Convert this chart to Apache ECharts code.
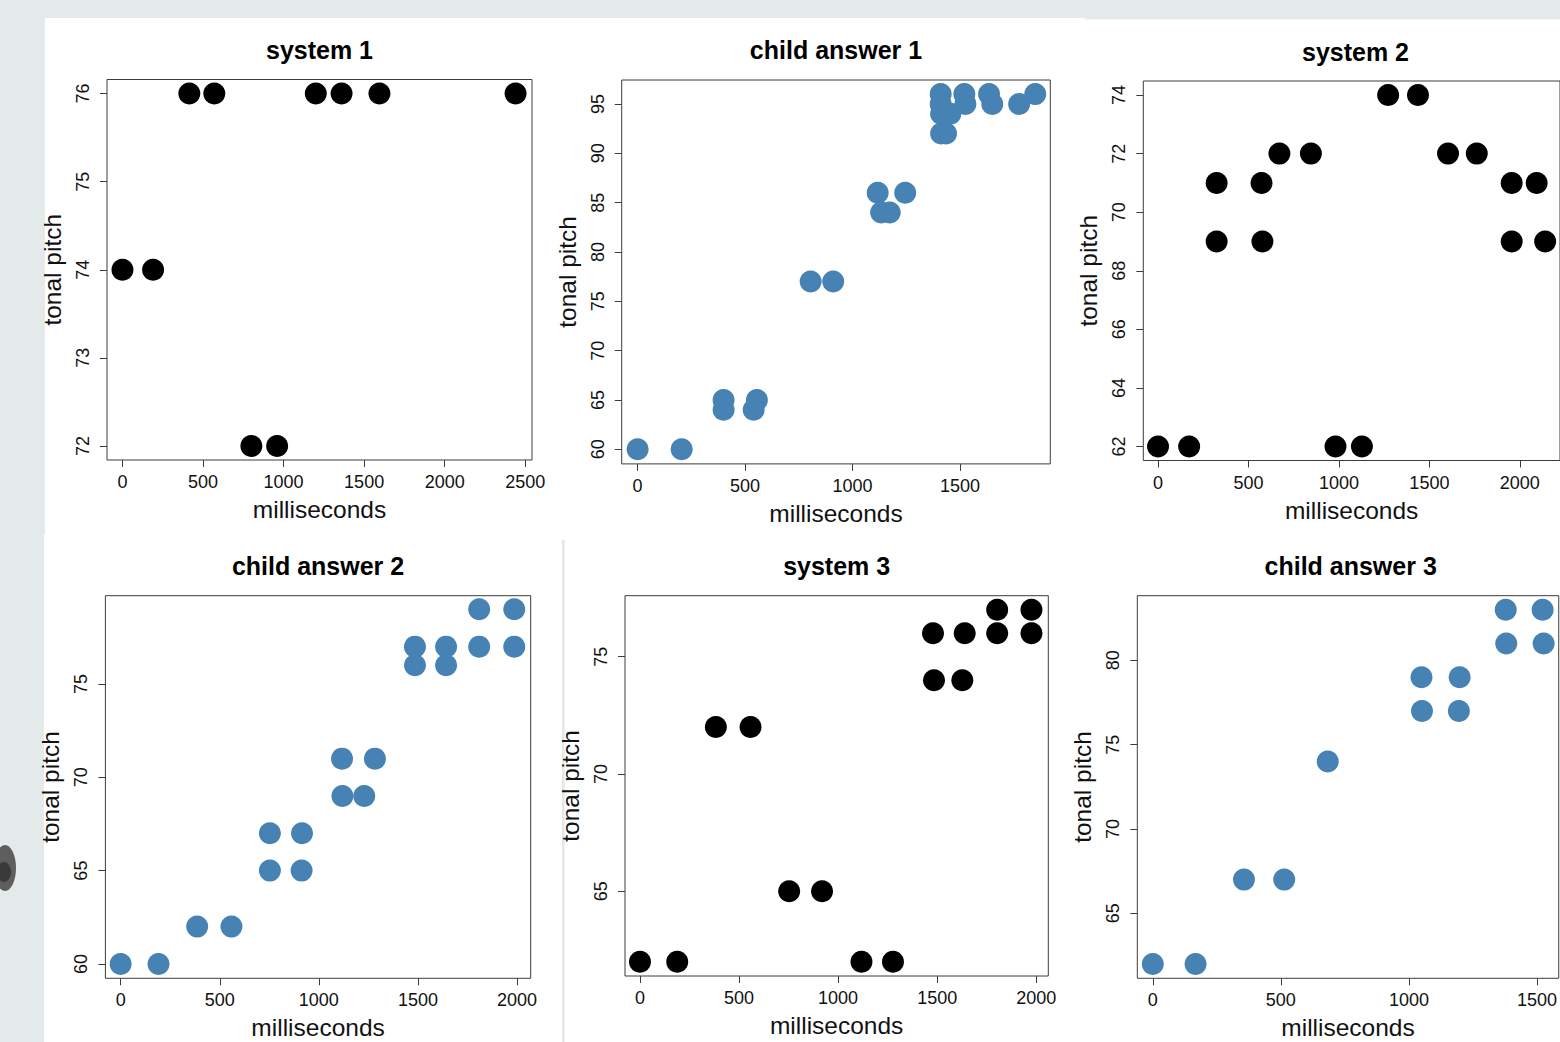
<!DOCTYPE html>
<html>
<head>
<meta charset="utf-8">
<script src="https://cdn.jsdelivr.net/npm/echarts@6/dist/echarts.min.js"></script>
<style>
  html, body { margin: 0; padding: 0; background: #e4eaea; }
  #chart { width: 1560px; height: 1042px; }
</style>
</head>
<body>
<div id="chart"></div>
<script>
// ---------- data ----------
const panelTitles = ['system 1', 'child answer 1', 'system 2', 'child answer 2', 'system 3', 'child answer 3'];
const xAxisTitle = 'milliseconds';
const yAxisTitle = 'tonal pitch';

const sys1Ms    = [0, 190, 415, 570, 800, 960, 1200, 1360, 1595, 2440];
const sys1Pitch = [74, 74, 76, 76, 72, 72, 76, 76, 76, 76];

const child1Ms    = [0, 205, 400, 400, 540, 555, 805, 910, 1117, 1133, 1173, 1245, 1410, 1410, 1412, 1455, 1412, 1435, 1520, 1525, 1635, 1650, 1775, 1850];
const child1Pitch = [60, 60, 65, 64, 64, 65, 77, 77, 86, 84, 84, 86, 96, 95, 94, 94, 92, 92, 96, 95, 96, 95, 95, 96];

const sys2Ms    = [0, 172, 324, 324, 572, 577, 671, 845, 981, 1127, 1272, 1437, 1603, 1762, 1955, 1955, 2093, 2140];
const sys2Pitch = [62, 62, 71, 69, 71, 69, 72, 72, 62, 62, 74, 74, 72, 72, 71, 69, 71, 69];

const child2Ms    = [0, 191, 386, 559, 753, 753, 915, 913, 1117, 1119, 1229, 1283, 1485, 1485, 1642, 1642, 1809, 1809, 1986, 1986];
const child2Pitch = [60, 60, 62, 62, 65, 67, 67, 65, 71, 69, 69, 71, 77, 76, 77, 76, 79, 77, 79, 77];

const sys3Ms    = [0, 188, 383, 558, 753, 919, 1118, 1277, 1479, 1484, 1639, 1627, 1803, 1803, 1976, 1976];
const sys3Pitch = [62, 62, 72, 72, 65, 65, 62, 62, 76, 74, 76, 74, 77, 76, 77, 76];

const child3Ms    = [0, 167, 356, 513, 683, 1049, 1051, 1198, 1195, 1378, 1380, 1522, 1526];
const child3Pitch = [62, 62, 67, 67, 74, 79, 77, 79, 77, 83, 81, 83, 81];

const xTicks1 = [0, 500, 1000, 1500, 2000, 2500];
const xTicks2 = [0, 500, 1000, 1500];
const xTicks3 = [0, 500, 1000, 1500, 2000];
const xTicks4 = [0, 500, 1000, 1500, 2000];
const xTicks5 = [0, 500, 1000, 1500, 2000];
const xTicks6 = [0, 500, 1000, 1500];

const yTicks1 = [72, 73, 74, 75, 76];
const yTicks2 = [60, 65, 70, 75, 80, 85, 90, 95];
const yTicks3 = [62, 64, 66, 68, 70, 72, 74];
const yTicks4 = [60, 65, 70, 75];
const yTicks5 = [65, 70, 75];
const yTicks6 = [65, 70, 75, 80];

// ---------- layout / style ----------
const BLACK = '#000000';
const BLUE = '#4682b4';
const FONT = '"Liberation Sans", Arial, sans-serif';

const panels = [
  { ms: sys1Ms,   pitch: sys1Pitch,   color: BLACK, xt: xTicks1, yt: yTicks1,
    grid: [107, 79.5, 425, 380.5], xr: [-96, 2542], yr: [71.84, 76.16], ty: 50 },
  { ms: child1Ms, pitch: child1Pitch, color: BLUE,  xt: xTicks2, yt: yTicks2,
    grid: [621.7, 80, 428.6, 383.9], xr: [-74, 1920], yr: [58.52, 97.43], ty: 50 },
  { ms: sys2Ms,   pitch: sys2Pitch,   color: BLACK, xt: xTicks3, yt: yTicks3,
    grid: [1143.3, 81, 424.4, 379.5], xr: [-81.4, 2222], yr: [61.52, 74.48], ty: 52 },
  { ms: child2Ms, pitch: child2Pitch, color: BLUE,  xt: xTicks4, yt: yTicks4,
    grid: [105.4, 595.7, 425.3, 382.6], xr: [-77, 2069], yr: [59.23, 79.73], ty: 566 },
  { ms: sys3Ms,   pitch: sys3Pitch,   color: BLACK, xt: xTicks5, yt: yTicks5,
    grid: [625, 595.7, 423.3, 380.3], xr: [-75.6, 2061], yr: [61.39, 77.6], ty: 566 },
  { ms: child3Ms, pitch: child3Pitch, color: BLUE,  xt: xTicks6, yt: yTicks6,
    grid: [1137.3, 595.7, 426.7, 382.6], xr: [-60.5, 1585], yr: [61.15, 83.83], ty: 566 }
];

const chart = echarts.init(document.getElementById('chart'), null, { renderer: 'svg' });

const AXIS_COLOR = '#3c3c3c';
const TEXT_COLOR = '#111111';
const plain = v => String(Math.round(v));

const option = {
  animation: false,
  backgroundColor: '#e4eaea',
  textStyle: { fontFamily: FONT },
  graphic: [
    { type: 'rect', shape: { x: 45, y: 18, width: 1040, height: 516 }, style: { fill: '#ffffff' }, z: -10, silent: true },
    { type: 'rect', shape: { x: 1082, y: 19.5, width: 480, height: 515 }, style: { fill: '#ffffff' }, z: -10, silent: true },
    { type: 'rect', shape: { x: 44, y: 534, width: 1520, height: 510 }, style: { fill: '#ffffff' }, z: -10, silent: true },
    { type: 'rect', shape: { x: 562, y: 540, width: 2.5, height: 502 }, style: { fill: '#e4e7e7' }, z: -9, silent: true },
    { type: 'ellipse', shape: { cx: 5, cy: 868, rx: 11, ry: 23 }, style: { fill: '#5e5e5e' }, z: -9, silent: true },
    { type: 'ellipse', shape: { cx: 4, cy: 872, rx: 7, ry: 10 }, style: { fill: '#3a3a3a' }, z: -8, silent: true }
  ],
  title: panels.map((p, i) => ({
    text: panelTitles[i],
    left: p.grid[0] + p.grid[2] / 2,
    top: p.ty,
    padding: 0,
    textAlign: 'center',
    textVerticalAlign: 'middle',
    textStyle: { fontSize: 25, fontWeight: 'bold', color: '#000', fontFamily: FONT }
  })),
  grid: panels.map(p => ({
    left: p.grid[0], top: p.grid[1], width: p.grid[2], height: p.grid[3],
    show: true, borderColor: AXIS_COLOR, borderWidth: 1, backgroundColor: 'transparent',
    containLabel: false
  })),
  xAxis: panels.map((p, i) => ({
    gridIndex: i, type: 'value', min: p.xr[0], max: p.xr[1], position: 'bottom',
    axisLine: { show: false, onZero: false },
    splitLine: { show: false },
    axisTick: { show: true, inside: false, length: 7, lineStyle: { color: AXIS_COLOR, width: 1 }, customValues: p.xt },
    axisLabel: { customValues: p.xt, formatter: plain, fontSize: 18, margin: 13, color: TEXT_COLOR, fontFamily: FONT },
    name: xAxisTitle, nameLocation: 'middle', nameGap: 37,
    nameTextStyle: { fontSize: 24.5, color: TEXT_COLOR, fontFamily: FONT }
  })),
  yAxis: panels.map((p, i) => ({
    gridIndex: i, type: 'value', min: p.yr[0], max: p.yr[1], position: 'left',
    axisLine: { show: false, onZero: false },
    splitLine: { show: false },
    axisTick: { show: true, inside: false, length: 7, lineStyle: { color: AXIS_COLOR, width: 1 }, customValues: p.yt },
    axisLabel: { customValues: p.yt, formatter: plain, rotate: 90, fontSize: 18, margin: 15, color: TEXT_COLOR, fontFamily: FONT },
    name: yAxisTitle, nameLocation: 'middle', nameGap: 42, nameRotate: 90,
    nameTextStyle: { fontSize: 24.5, color: TEXT_COLOR, fontFamily: FONT }
  })),
  series: panels.map((p, i) => ({
    type: 'scatter',
    name: panelTitles[i],
    xAxisIndex: i, yAxisIndex: i,
    data: p.ms.map((m, k) => [m, p.pitch[k]]),
    symbol: 'circle',
    symbolSize: 22,
    clip: false,
    itemStyle: { color: p.color, opacity: 1 },
    emphasis: { disabled: true }
  }))
};

chart.setOption(option);
</script>
</body>
</html>
